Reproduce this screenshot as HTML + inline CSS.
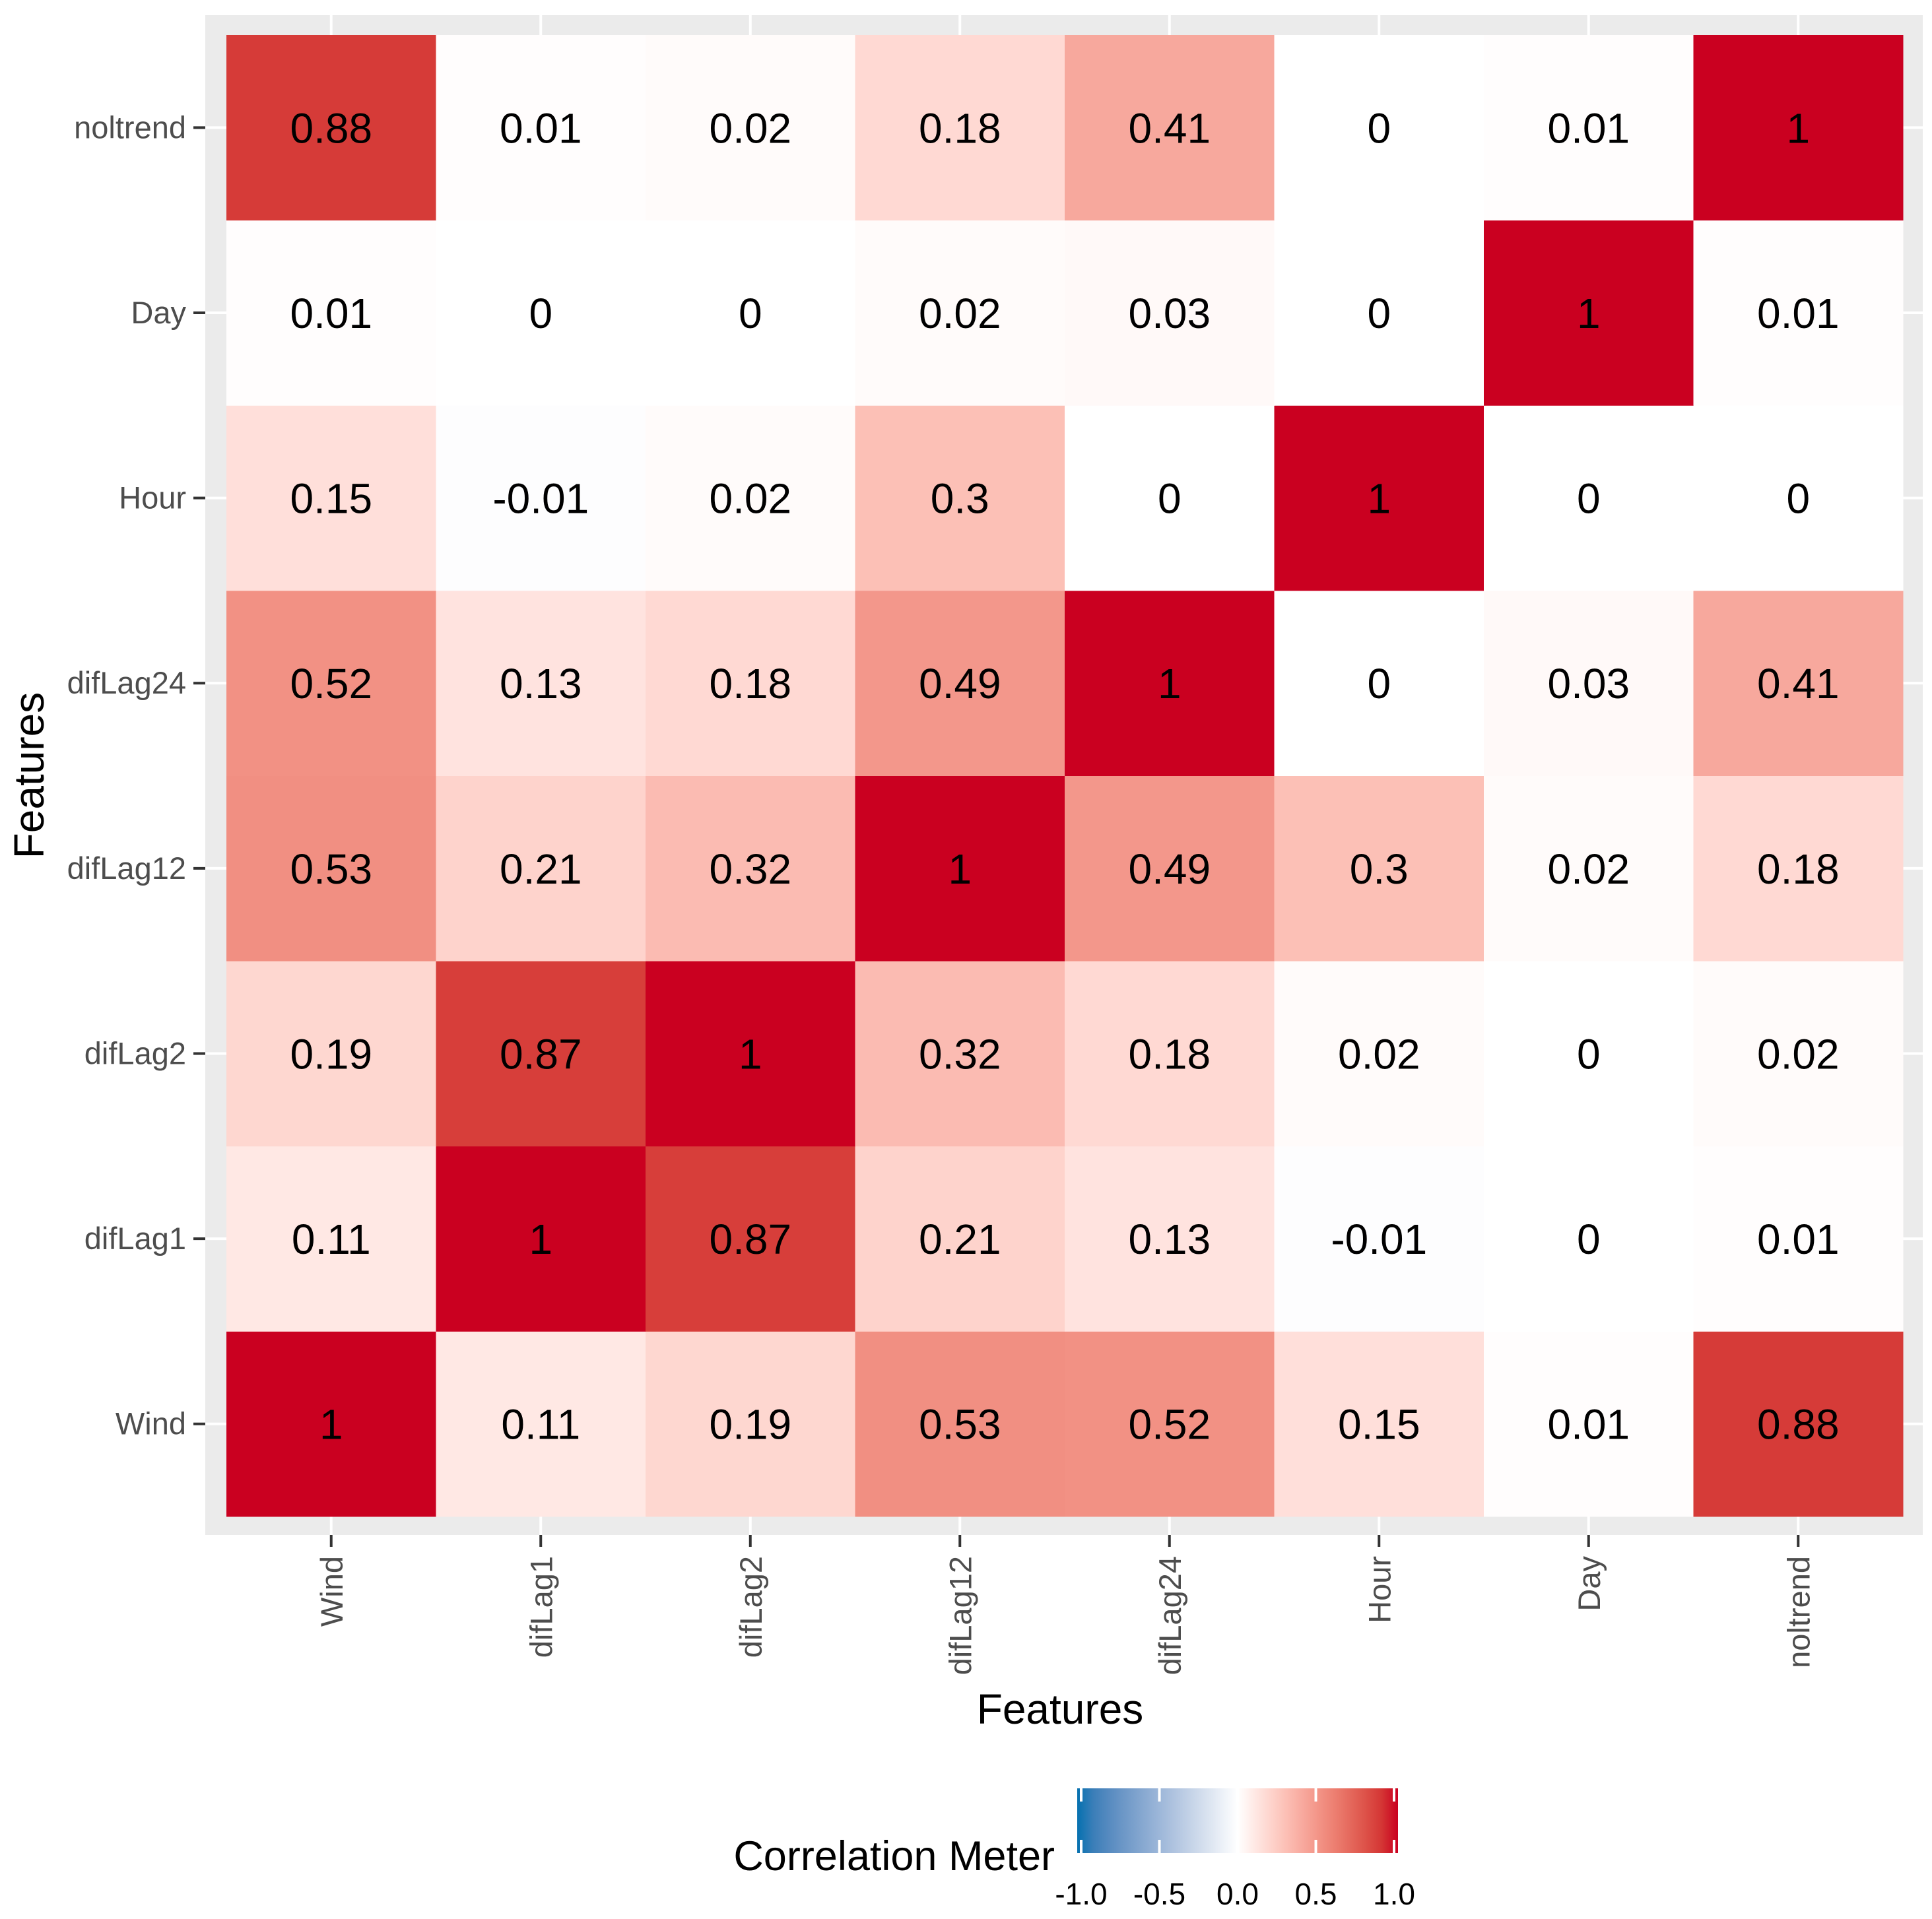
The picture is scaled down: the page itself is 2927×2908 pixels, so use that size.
<!DOCTYPE html>
<html><head><meta charset="utf-8"><style>
html,body{margin:0;padding:0;background:#fff;}
svg{display:block;font-family:"Liberation Sans",Arial,sans-serif;}
</style></head><body>
<svg id="chart" width="2927" height="2908" viewBox="0 0 2927 2908" xmlns="http://www.w3.org/2000/svg">
<rect x="311" y="23" width="2602" height="2303" fill="#ebebeb"/>
<g id="grid"></g>
<g id="cells"></g>
<g id="labels"></g>
<g id="axes"></g>
<text x="1606" y="2612" font-size="64" text-anchor="middle" fill="#000">Features</text>
<text transform="translate(66,1175) rotate(-90)" font-size="64" text-anchor="middle" fill="#000">Features</text>
<g id="legend">
<defs><linearGradient id="lg" x1="0" x2="1" y1="0" y2="0"></linearGradient></defs>
<text x="1598" y="2834" font-size="63" text-anchor="end" fill="#000">Correlation Meter</text>
</g>
</svg>
<script>
const features = ["Wind","difLag1","difLag2","difLag12","difLag24","Hour","Day","noltrend"];
const rowWind = [1,0.11,0.19,0.53,0.52,0.15,0.01,0.88];
const rowDifLag1 = [0.11,1,0.87,0.21,0.13,-0.01,0,0.01];
const rowDifLag2 = [0.19,0.87,1,0.32,0.18,0.02,0,0.02];
const rowDifLag12 = [0.53,0.21,0.32,1,0.49,0.3,0.02,0.18];
const rowDifLag24 = [0.52,0.13,0.18,0.49,1,0,0.03,0.41];
const rowHour = [0.15,-0.01,0.02,0.3,0,1,0,0];
const rowDay = [0.01,0,0,0.02,0.03,0,1,0.01];
const rowNoltrend = [0.88,0.01,0.02,0.18,0.41,0,0.01,1];
const legendTicks = [-1,-0.5,0,0.5,1];
const legendTickLabels = ["-1.0","-0.5","0.0","0.5","1.0"];

const matrix = [rowWind,rowDifLag1,rowDifLag2,rowDifLag12,rowDifLag24,rowHour,rowDay,rowNoltrend];
const NS="http://www.w3.org/2000/svg";
const X0=343, X1=2883, Y0=53, Y1=2298;
const n=features.length, cw=(X1-X0)/n, ch=(Y1-Y0)/n;
const xPos=i=>X0+cw*(i+0.5);
const yPos=j=>Y1-ch*(j+0.5);

function srgb2lin(c){c/=255;return c<=0.04045?c/12.92:Math.pow((c+0.055)/1.055,2.4);}
function lin2srgb(c){c=c<=0.0031308?12.92*c:1.055*Math.pow(c,1/2.4)-0.055;return Math.max(0,Math.min(255,Math.round(c*255)));}
function hex2lab(h){const r=srgb2lin(parseInt(h.substr(1,2),16)),g=srgb2lin(parseInt(h.substr(3,2),16)),b=srgb2lin(parseInt(h.substr(5,2),16));
let x=(0.4124*r+0.3576*g+0.1805*b)/0.95047,y=0.2126*r+0.7152*g+0.0722*b,z=(0.0193*r+0.1192*g+0.9505*b)/1.08883;
const f=t=>t>0.008856?Math.cbrt(t):7.787*t+16/116;x=f(x);y=f(y);z=f(z);return [116*y-16,500*(x-y),200*(y-z)];}
function lab2hex(L,a,bb){let y=(L+16)/116,x=a/500+y,z=y-bb/200;const fi=t=>t*t*t>0.008856?t*t*t:(t-16/116)/7.787;
x=fi(x)*0.95047;y=fi(y);z=fi(z)*1.08883;
const r=3.2406*x-1.5372*y-0.4986*z,g=-0.9689*x+1.8758*y+0.0415*z,b=0.0557*x-0.2040*y+1.0570*z;
return "rgb("+lin2srgb(r)+","+lin2srgb(g)+","+lin2srgb(b)+")";}
const LW=hex2lab("#ffffff"),LH=hex2lab("#ca0020"),LL=hex2lab("#0571b0");
function color(v){const t=Math.min(1,Math.abs(v)),e=v>=0?LH:LL;return lab2hex(LW[0]+(e[0]-LW[0])*t,LW[1]+(e[1]-LW[1])*t,LW[2]+(e[2]-LW[2])*t);}

const grid=document.getElementById('grid');
for(let i=0;i<n;i++){
  const l=document.createElementNS(NS,'line');
  
  
  l.setAttribute('x1',xPos(i));l.setAttribute('x2',xPos(i));l.setAttribute('y1',23);l.setAttribute('y2',2326);
  l.setAttribute('stroke','#fff');l.setAttribute('stroke-width','4');grid.appendChild(l);
  const h=document.createElementNS(NS,'line');
  
  
  h.setAttribute('y1',yPos(i));h.setAttribute('y2',yPos(i));h.setAttribute('x1',311);h.setAttribute('x2',2913);
  h.setAttribute('stroke','#fff');h.setAttribute('stroke-width','4');grid.appendChild(h);
}
const cells=document.getElementById('cells'), labels=document.getElementById('labels');
for(let r=0;r<n;r++)for(let c=0;c<n;c++){
  const v=matrix[r][c];
  const rc=document.createElementNS(NS,'rect');
  
  
  rc.setAttribute('x',xPos(c)-cw/2);rc.setAttribute('y',yPos(r)-ch/2);
  rc.setAttribute('width',cw+0.5);rc.setAttribute('height',ch+0.5);rc.setAttribute('fill',color(v));
  cells.appendChild(rc);
  const t=document.createElementNS(NS,'text');
  
  
  t.setAttribute('x',xPos(c));t.setAttribute('y',yPos(r)+23);t.setAttribute('font-size','64');
  t.setAttribute('text-anchor','middle');t.setAttribute('fill','#000');
  t.textContent=String(v);labels.appendChild(t);
}
const axes=document.getElementById('axes');
for(let i=0;i<n;i++){
  const tk=document.createElementNS(NS,'line');
  
  
  tk.setAttribute('x1',293);tk.setAttribute('x2',311);tk.setAttribute('y1',yPos(i));tk.setAttribute('y2',yPos(i));
  tk.setAttribute('stroke','#333');tk.setAttribute('stroke-width','4');axes.appendChild(tk);
  const yl=document.createElementNS(NS,'text');
  
  
  yl.setAttribute('x',282);yl.setAttribute('y',yPos(i)+16);yl.setAttribute('font-size','47');
  yl.setAttribute('text-anchor','end');yl.setAttribute('fill','#4d4d4d');yl.textContent=features[i];axes.appendChild(yl);
  const xt=document.createElementNS(NS,'line');
  
  
  xt.setAttribute('y1',2326);xt.setAttribute('y2',2344);xt.setAttribute('x1',xPos(i));xt.setAttribute('x2',xPos(i));
  xt.setAttribute('stroke','#333');xt.setAttribute('stroke-width','4');axes.appendChild(xt);
  const xl=document.createElementNS(NS,'text');
  
  
  xl.setAttribute('transform','translate('+(xPos(i)+17)+',2358) rotate(-90)');
  xl.setAttribute('font-size','47');xl.setAttribute('text-anchor','end');xl.setAttribute('fill','#4d4d4d');
  xl.textContent=features[i];axes.appendChild(xl);
}
// legend
const LX0=1632,LX1=2118,LY0=2710,LY1=2808;
const lg=document.getElementById('lg');
for(let k=0;k<=20;k++){const v=-1+k*0.1;const s=document.createElementNS(NS,'stop');
  s.setAttribute('offset',(k/20));s.setAttribute('stop-color',color(v));lg.appendChild(s);}
const leg=document.getElementById('legend');
const bar=document.createElementNS(NS,'rect');


bar.setAttribute('x',LX0);bar.setAttribute('y',LY0);bar.setAttribute('width',LX1-LX0);bar.setAttribute('height',LY1-LY0);
bar.setAttribute('fill','url(#lg)');leg.appendChild(bar);
const lx=v=>LX0+6+(v+1)/2*(LX1-LX0-12);
legendTicks.forEach((v,i)=>{
  [[LY0,LY0+20],[LY1-20,LY1]].forEach(p=>{
    const tl=document.createElementNS(NS,'line');
    
    
    tl.setAttribute('x1',lx(v));tl.setAttribute('x2',lx(v));tl.setAttribute('y1',p[0]);tl.setAttribute('y2',p[1]);
    tl.setAttribute('stroke','#fff');tl.setAttribute('stroke-width','4');leg.appendChild(tl);
  });
  const tt=document.createElementNS(NS,'text');
  
  
  tt.setAttribute('x',lx(v));tt.setAttribute('y',2886);tt.setAttribute('font-size','46');
  tt.setAttribute('text-anchor','middle');tt.setAttribute('fill','#000');tt.textContent=legendTickLabels[i];leg.appendChild(tt);
});
</script>
</body></html>
